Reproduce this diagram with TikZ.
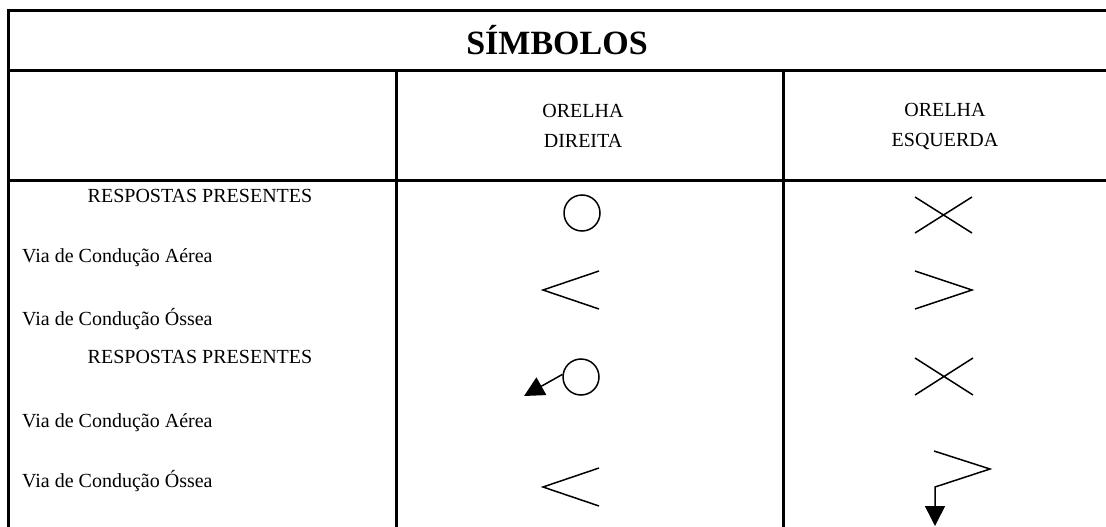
\documentclass[tikz,border=0pt]{standalone}
\usepackage{fontspec}
\setmainfont{Liberation Serif}
\usetikzlibrary{arrows.meta}
\begin{document}
\begin{tikzpicture}[x=1pt,y=-1pt,
  frame/.style={line width=3pt},
  sym/.style={line width=1.5pt},
  txt/.style={inner sep=0pt, font=\fontsize{20}{24}\selectfont},
  lefttxt/.style={txt, anchor=west},
  arr/.style={line width=1.5pt, -{Triangle[length=20pt,width=20pt]}}]
\useasboundingbox (0,0) rectangle (1106,527);
% table frame
\draw[frame] (1106,10.5) -- (8.5,10.5) -- (8.5,527);
\draw[frame] (8.5,70.5) -- (1106,70.5);
\draw[frame] (8.5,180.5) -- (1106,180.5);
\draw[frame] (396.5,70.5) -- (396.5,527);
\draw[frame] (783,70.5) -- (783,527);
% header
\node[txt, font=\fontsize{34}{38}\selectfont\bfseries] (title) at (557,40) {SÍMBOLOS};
\node[txt, align=center] (od) at (583,126) {ORELHA\\[6pt]DIREITA};
\node[txt, align=center] (oe) at (945,126) {ORELHA\\[6pt]ESQUERDA};
% row labels
\node[txt] (rp1) at (200,196) {RESPOSTAS PRESENTES};
\node[lefttxt] (va1) at (22,258) {Via de Condução Aérea};
\node[lefttxt] (vo1) at (22,319) {Via de Condução Óssea};
\node[txt] (rp2) at (200,357) {RESPOSTAS PRESENTES};
\node[lefttxt] (va2) at (22,423) {Via de Condução Aérea};
\node[lefttxt] (vo2) at (22,481) {Via de Condução Óssea};
% symbols group 1
\node[sym, draw, circle, minimum size=36pt, inner sep=0pt] (c1) at (582,213) {};
\draw[sym] (915,197) -- (972,233) (972,197) -- (915,233);
\draw[sym] (599,271) -- (543,290) -- (599,309);
\draw[sym] (915,271) -- (972,290) -- (915,309);
% symbols group 2
\node[sym, draw, circle, minimum size=36pt, inner sep=0pt] (c2) at (581,377) {};
\coordinate (t2) at (524,396);
\draw[arr] (c2.172) -- (t2);
\draw[sym] (915,358) -- (973,395) (973,358) -- (915,395);
\draw[sym] (599,468) -- (543,487) -- (599,506);
\coordinate (t3) at (935,526);
\draw[arr] (934,451) -- (990,469) -- (935,487) -- (t3);
\end{tikzpicture}
\end{document}
